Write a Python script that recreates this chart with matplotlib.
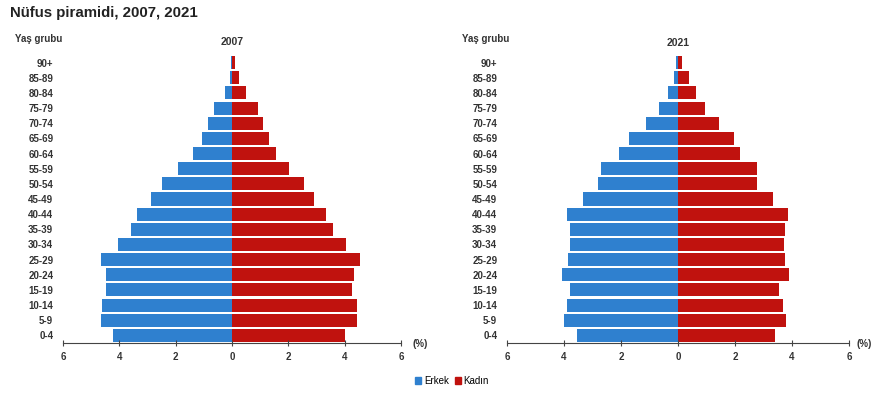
import matplotlib
matplotlib.use("Agg")
import matplotlib.pyplot as plt
from matplotlib.patches import Patch

plt.rcParams['font.family'] = ['Liberation Sans', 'DejaVu Sans']

age_groups = ["0-4", "5-9", "10-14", "15-19", "20-24", "25-29", "30-34", "35-39",
              "40-44", "45-49", "50-54", "55-59", "60-64", "65-69", "70-74",
              "75-79", "80-84", "85-89", "90+"]

male_2007 = [4.21, 4.66, 4.60, 4.46, 4.46, 4.66, 4.05, 3.58, 3.36, 2.87,
             2.48, 1.92, 1.38, 1.07, 0.86, 0.63, 0.26, 0.06, 0.04]
female_2007 = [4.00, 4.45, 4.43, 4.25, 4.33, 4.55, 4.05, 3.57, 3.34, 2.92,
               2.57, 2.03, 1.57, 1.32, 1.10, 0.91, 0.50, 0.24, 0.12]

male_2021 = [3.54, 3.99, 3.89, 3.78, 4.08, 3.87, 3.78, 3.78, 3.89, 3.35,
             2.81, 2.70, 2.08, 1.73, 1.12, 0.68, 0.36, 0.15, 0.06]
female_2021 = [3.42, 3.80, 3.68, 3.56, 3.88, 3.77, 3.71, 3.74, 3.85, 3.32,
               2.77, 2.77, 2.16, 1.95, 1.43, 0.94, 0.64, 0.37, 0.14]

xticks = [-6, -4, -2, 0, 2, 4, 6]
xticklabels = ["6", "4", "2", "0", "2", "4", "6"]

BLUE = "#2f80cf"
RED = "#c0120e"
TXT = "#333333"

W, H = 875, 400
fig = plt.figure(figsize=(W / 100, H / 100), dpi=100)

def frac_x(px):
    return px / W

def frac_y(py):
    return 1 - py / H

panels = [
    (male_2007, female_2007, "2007", 63, 401, 420, 42),
    (male_2021, female_2021, "2021", 507, 849, 864, 43),
]

for male, female, year, x0, x1, pct_x, year_y in panels:
    ax = fig.add_axes([frac_x(x0), frac_y(343), frac_x(x1 - x0), frac_y(55) - frac_y(343)])
    ypos = list(range(len(age_groups)))
    ax.barh(ypos, [-v for v in male], height=0.86, color=BLUE, linewidth=0)
    ax.barh(ypos, female, height=0.86, color=RED, linewidth=0)
    ax.set_xlim(-6, 6)
    ax.set_ylim(-0.5, len(age_groups) - 0.5)
    ax.set_yticks(ypos)
    ax.set_yticklabels(age_groups, fontsize=7, color=TXT, fontweight='bold')
    ax.tick_params(axis='y', length=0, pad=7)
    ax.set_xticks(xticks)
    ax.set_xticklabels(xticklabels, fontsize=7, color=TXT, fontweight='bold')
    ax.tick_params(axis='x', direction='inout', length=5, width=0.8, color='#444444', pad=4)
    for s in ['top', 'right', 'left']:
        ax.spines[s].set_visible(False)
    ax.spines['bottom'].set_color('#444444')
    ax.spines['bottom'].set_linewidth(0.8)
    fig.text(frac_x((x0 + x1) / 2), frac_y(year_y), year, ha='center', va='center',
             fontsize=7.5, fontweight='bold', color=TXT)
    fig.text(frac_x(pct_x), frac_y(344), "(%)", fontsize=7, fontweight='bold',
             color=TXT, ha='center', va='center')

fig.text(frac_x(10), frac_y(13), "Nüfus piramidi, 2007, 2021", fontsize=10.8,
         fontweight='bold', color='#222222', ha='left', va='center')
fig.text(frac_x(15), frac_y(39), "Yaş grubu", fontsize=7, fontweight='bold',
         color=TXT, ha='left', va='center')
fig.text(frac_x(462), frac_y(39), "Yaş grubu", fontsize=7, fontweight='bold',
         color=TXT, ha='left', va='center')

handles = [Patch(color=BLUE, label="Erkek"), Patch(color=RED, label="Kadın")]
fig.legend(handles=handles, loc='center', bbox_to_anchor=(frac_x(452), frac_y(381)),
           ncol=2, frameon=False, fontsize=7, handlelength=0.6, handleheight=0.6,
           handletextpad=0.3, columnspacing=0.6)

fig.savefig("out.png", dpi=100)
